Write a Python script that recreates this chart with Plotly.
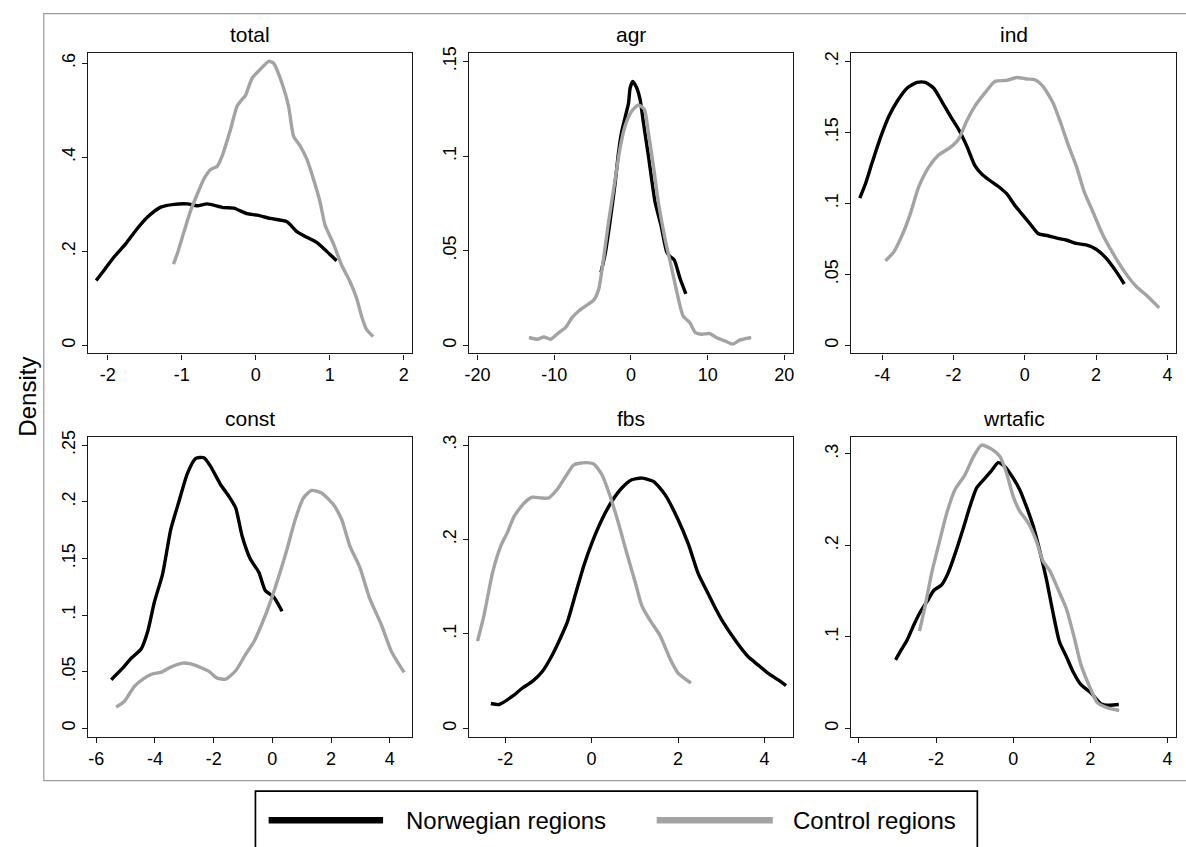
import plotly.graph_objects as go

# ---------------- data ----------------
panel_titles = ["total", "agr", "ind", "const", "fbs", "wrtafic"]
series_names = ["Norwegian regions", "Control regions"]

nor_total_x = [-2.157, -2.045, -1.91, -1.753, -1.619, -1.462, -1.283, -1.103, -0.924, -0.789, -0.655,
               -0.43, -0.296, -0.117, 0.018, 0.197, 0.422, 0.556, 0.691, 0.825, 0.96, 1.094]
nor_total_y = [0.138, 0.161, 0.189, 0.217, 0.245, 0.273, 0.294, 0.300, 0.301, 0.297, 0.301,
               0.293, 0.292, 0.280, 0.277, 0.270, 0.263, 0.242, 0.230, 0.219, 0.200, 0.180]
ctl_total_x = [-1.112, -1.058, -0.969, -0.879, -0.789, -0.70, -0.61, -0.52, -0.453, -0.341, -0.251,
               -0.184, -0.139, -0.049, 0.063, 0.175, 0.242, 0.354, 0.444, 0.511, 0.601, 0.691,
               0.78, 0.87, 0.937, 1.049, 1.161, 1.274, 1.363, 1.43, 1.498, 1.587]
ctl_total_y = [0.173, 0.196, 0.242, 0.287, 0.322, 0.354, 0.374, 0.381, 0.403, 0.459, 0.509,
               0.523, 0.531, 0.568, 0.587, 0.604, 0.600, 0.558, 0.509, 0.445, 0.424, 0.396,
               0.354, 0.305, 0.256, 0.217, 0.171, 0.136, 0.101, 0.063, 0.034, 0.019]

nor_agr_x = [-3.91, -3.35, -2.70, -2.05, -1.62, -1.19, -0.67, -0.32, -0.11, 0.24, 0.76, 1.19, 1.62,
             2.27, 3.14, 3.91, 4.65, 5.08, 5.64, 6.38, 7.16]
nor_agr_y = [0.0386, 0.0487, 0.0662, 0.0863, 0.102, 0.1133, 0.122, 0.128, 0.136, 0.1395, 0.136,
             0.130, 0.1177, 0.1002, 0.0758, 0.0636, 0.0496, 0.047, 0.0452, 0.0356, 0.0272]
ctl_agr_x = [-13.3, -12.2, -11.35, -10.49, -9.41, -8.54, -7.68, -6.81, -5.95, -4.86, -4.22, -3.57,
             -2.92, -2.05, -1.41, -0.76, 0.11, 0.97, 1.75, 2.27, 2.92, 3.57, 4.43, 5.3, 6.16, 6.81,
             7.68, 8.41, 9.19, 10.27, 11.14, 12.22, 13.3, 14.16, 15.68]
ctl_agr_y = [0.0042, 0.0033, 0.0045, 0.0033, 0.0068, 0.0094, 0.0147, 0.0182, 0.0208, 0.0239, 0.0295,
             0.0461, 0.0653, 0.088, 0.1046, 0.116, 0.1238, 0.127, 0.1247, 0.1125, 0.095, 0.0758,
             0.0566, 0.0409, 0.0251, 0.0155, 0.012, 0.0068, 0.0059, 0.0063, 0.0042, 0.0024,
             0.0007, 0.0028, 0.0042]

nor_ind_x = [-4.63, -4.47, -4.28, -4.05, -3.81, -3.58, -3.30, -3.02, -2.79, -2.56, -2.33, -2.09,
             -1.86, -1.63, -1.40, -1.21, -0.98, -0.74, -0.51, -0.28, -0.09, 0.14, 0.37, 0.65, 0.93,
             1.16, 1.44, 1.72, 2.0, 2.28, 2.56, 2.79]
nor_ind_y = [0.1038, 0.1139, 0.129, 0.1464, 0.1616, 0.172, 0.1814, 0.1853, 0.1853, 0.1814, 0.172,
             0.1616, 0.1523, 0.1406, 0.1267, 0.1208, 0.1162, 0.112, 0.1069, 0.0987, 0.0929, 0.0859,
             0.0789, 0.0773, 0.0754, 0.0743, 0.0719, 0.0708, 0.0678, 0.0615, 0.0522, 0.0433]
ctl_ind_x = [-3.91, -3.67, -3.44, -3.21, -2.98, -2.70, -2.42, -2.09, -1.86, -1.63, -1.40, -1.12,
             -0.84, -0.51, -0.23, 0.05, 0.28, 0.51, 0.79, 1.02, 1.21, 1.44, 1.67, 1.91, 2.19, 2.47,
             2.79, 3.12, 3.44, 3.77]
ctl_ind_y = [0.0596, 0.0661, 0.0778, 0.0929, 0.1115, 0.1255, 0.1341, 0.1395, 0.1453, 0.1581, 0.1686,
             0.1779, 0.186, 0.1867, 0.1888, 0.1877, 0.1872, 0.1825, 0.1709, 0.1558, 0.1418, 0.1267,
             0.108, 0.0941, 0.0778, 0.065, 0.0522, 0.0417, 0.0347, 0.0265]

nor_const_x = [-5.49, -5.10, -4.81, -4.47, -4.25, -4.02, -3.74, -3.46, -3.18, -2.89, -2.61, -2.33,
               -2.10, -1.76, -1.48, -1.25, -1.03, -0.75, -0.46, -0.24, 0.05, 0.33]
nor_const_y = [0.0429, 0.0531, 0.0618, 0.070, 0.0852, 0.1114, 0.1362, 0.1756, 0.2004, 0.2252, 0.2383,
               0.2389, 0.231, 0.215, 0.2048, 0.1946, 0.1698, 0.1494, 0.1377, 0.1216, 0.1158, 0.1033]
ctl_const_x = [-5.32, -5.04, -4.70, -4.36, -4.08, -3.80, -3.46, -3.06, -2.78, -2.44, -2.16, -1.88,
               -1.59, -1.25, -0.92, -0.63, -0.35, -0.07, 0.21, 0.50, 0.78, 1.06, 1.34, 1.68, 2.08,
               2.36, 2.64, 2.98, 3.32, 3.72, 4.06, 4.49]
ctl_const_y = [0.0187, 0.0239, 0.037, 0.0443, 0.0481, 0.0493, 0.054, 0.0575, 0.0569, 0.0537, 0.0502,
               0.0443, 0.0435, 0.0508, 0.0648, 0.0764, 0.0925, 0.1114, 0.1333, 0.1581, 0.1844,
               0.2033, 0.210, 0.2077, 0.1975, 0.1844, 0.161, 0.1421, 0.1144, 0.091, 0.0677, 0.0493]

nor_fbs_x = [-2.33, -2.14, -1.83, -1.60, -1.37, -1.14, -0.95, -0.76, -0.56, -0.37, -0.18, 0.01, 0.24,
             0.47, 0.70, 0.93, 1.16, 1.43, 1.70, 2.00, 2.24, 2.47, 2.66, 2.85, 3.04, 3.35, 3.62,
             3.85, 4.08, 4.31, 4.50]
nor_fbs_y = [0.0263, 0.0252, 0.034, 0.0427, 0.0497, 0.0602, 0.0742, 0.0917, 0.1127, 0.1425, 0.1722,
             0.1967, 0.2212, 0.2405, 0.2545, 0.2632, 0.265, 0.2615, 0.2475, 0.2212, 0.195, 0.1635,
             0.146, 0.1285, 0.1127, 0.0917, 0.076, 0.0672, 0.0585, 0.0515, 0.0452]
ctl_fbs_x = [-2.64, -2.49, -2.29, -2.10, -1.95, -1.79, -1.56, -1.37, -1.18, -0.99, -0.79, -0.60,
             -0.41, -0.14, 0.05, 0.24, 0.43, 0.62, 0.81, 1.01, 1.16, 1.35, 1.58, 1.81, 2.00, 2.30]
ctl_fbs_y = [0.0924, 0.1197, 0.1652, 0.1932, 0.2072, 0.2247, 0.2387, 0.2447, 0.244, 0.244, 0.2534,
             0.2667, 0.279, 0.2814, 0.280, 0.2685, 0.2457, 0.2177, 0.1862, 0.1547, 0.1302, 0.1145,
             0.0987, 0.0742, 0.0585, 0.048]

nor_wrt_x = [-3.05, -2.92, -2.75, -2.58, -2.41, -2.19, -2.06, -1.85, -1.68, -1.51, -1.29, -1.12,
             -0.95, -0.73, -0.56, -0.39, -0.22, 0.0, 0.17, 0.34, 0.52, 0.69, 0.86, 1.03, 1.2, 1.38,
             1.55, 1.76, 2.02, 2.28, 2.49, 2.74]
nor_wrt_y = [0.0748, 0.0846, 0.0965, 0.1128, 0.1272, 0.1417, 0.1507, 0.1572, 0.1706, 0.1905, 0.2194,
             0.2429, 0.2628, 0.2736, 0.2819, 0.2906, 0.2863, 0.2736, 0.261, 0.2429, 0.2212, 0.1941,
             0.1634, 0.1272, 0.0947, 0.0784, 0.0622, 0.0477, 0.0387, 0.0267, 0.0253, 0.026]
ctl_wrt_x = [-2.43, -2.28, -2.11, -1.94, -1.72, -1.51, -1.25, -1.03, -0.82, -0.52, -0.34, -0.17,
             0.0, 0.17, 0.39, 0.6, 0.77, 0.95, 1.16, 1.38, 1.59, 1.76, 1.98, 2.19, 2.45, 2.75]
ctl_wrt_y = [0.1063, 0.1345, 0.1706, 0.1995, 0.2357, 0.261, 0.2772, 0.2971, 0.3098, 0.3043, 0.2971,
             0.279, 0.2537, 0.2375, 0.2248, 0.2049, 0.1833, 0.1724, 0.1525, 0.1308, 0.0983, 0.0694,
             0.0459, 0.0278, 0.0224, 0.0195]

x_tickvals = [[-2, -1, 0, 1, 2], [-20, -10, 0, 10, 20], [-4, -2, 0, 2, 4],
              [-6, -4, -2, 0, 2, 4], [-2, 0, 2, 4], [-4, -2, 0, 2, 4]]
y_tickvals = [[0, 0.2, 0.4, 0.6], [0, 0.05, 0.1, 0.15], [0, 0.05, 0.1, 0.15, 0.2],
              [0, 0.05, 0.1, 0.15, 0.2, 0.25], [0, 0.1, 0.2, 0.3], [0, 0.1, 0.2, 0.3]]
y_ticktext = [["0", ".2", ".4", ".6"], ["0", ".05", ".1", ".15"], ["0", ".05", ".1", ".15", ".2"],
              ["0", ".05", ".1", ".15", ".2", ".25"], ["0", ".1", ".2", ".3"], ["0", ".1", ".2", ".3"]]
y_axis_title = "Density"

# ---------------- styling / layout ----------------
W, H = 1186, 847
FONT = "Liberation Sans, Arial, Helvetica, sans-serif"
BLACK = "#000000"
GRAY = "#a3a3a3"

x_ranges = [[-2.269, 2.112], [-21.08, 21.17], [-4.865, 4.234],
            [-6.285, 4.756], [-2.829, 4.668], [-4.196, 4.217]]
y_ranges = [[-0.0169, 0.621], [-0.0042, 0.1543], [-0.0056, 0.2058],
            [-0.0076, 0.2574], [-0.0091, 0.3088], [-0.0094, 0.3189]]

# panel boxes in pixels: (left, right, top, bottom)
boxes = [(83.3, 409.0, 46.7, 349.3), (466.7, 792.3, 46.7, 349.3), (850.7, 1176.7, 46.7, 349.3),
         (83.3, 409.0, 433.3, 736.0), (466.7, 792.3, 433.3, 736.0), (850.7, 1176.7, 433.3, 736.0)]

curves = [
    (nor_total_x, nor_total_y, ctl_total_x, ctl_total_y),
    (nor_agr_x, nor_agr_y, ctl_agr_x, ctl_agr_y),
    (nor_ind_x, nor_ind_y, ctl_ind_x, ctl_ind_y),
    (nor_const_x, nor_const_y, ctl_const_x, ctl_const_y),
    (nor_fbs_x, nor_fbs_y, ctl_fbs_x, ctl_fbs_y),
    (nor_wrt_x, nor_wrt_y, ctl_wrt_x, ctl_wrt_y),
]

fig = go.Figure()
layout = dict(
    width=W, height=H, autosize=False,
    margin=dict(l=0, r=0, t=0, b=0),
    paper_bgcolor="white", plot_bgcolor="white",
    showlegend=False,
    font=dict(family=FONT, color="black", size=18),
)

annotations = []
shapes = []
for i in range(6):
    xa = "xaxis" if i == 0 else f"xaxis{i+1}"
    ya = "yaxis" if i == 0 else f"yaxis{i+1}"
    xref = "x" if i == 0 else f"x{i+1}"
    yref = "y" if i == 0 else f"y{i+1}"
    L, R, T, B = boxes[i]
    common = dict(showline=True, mirror=True, linecolor="#1a1a1a", linewidth=1.3,
                  showgrid=False, zeroline=False, ticks="outside", ticklen=5,
                  tickcolor="#1a1a1a", tickwidth=1, tickfont=dict(size=18, family=FONT, color="black"),
                  fixedrange=True)
    layout[xa] = dict(domain=[L / W, R / W], anchor=yref, range=x_ranges[i],
                      tickmode="array", tickvals=x_tickvals[i],
                      ticktext=[str(v) for v in x_tickvals[i]], **common)
    layout[ya] = dict(domain=[1 - B / H, 1 - T / H], anchor=xref, range=y_ranges[i],
                      tickmode="array", tickvals=y_tickvals[i], ticktext=y_ticktext[i],
                      tickangle=-90, **common)
    nx, ny, cx, cy = curves[i]
    fig.add_trace(go.Scatter(x=nx, y=ny, mode="lines", name=series_names[0],
                             line=dict(color=BLACK, width=3.4, shape="spline", smoothing=0.6),
                             xaxis=xref, yaxis=yref, hoverinfo="skip"))
    fig.add_trace(go.Scatter(x=cx, y=cy, mode="lines", name=series_names[1],
                             line=dict(color=GRAY, width=3.4, shape="spline", smoothing=0.6),
                             xaxis=xref, yaxis=yref, hoverinfo="skip"))
    annotations.append(dict(text=panel_titles[i], xref="paper", yref="paper",
                            x=(L + R) / 2 / W, y=1 - (T - 5) / H, xanchor="center", yanchor="bottom",
                            showarrow=False, font=dict(size=21, family=FONT, color="black")))

# y-axis title
annotations.append(dict(text=y_axis_title, xref="paper", yref="paper", x=23 / W, y=1 - 393 / H,
                        xanchor="center", yanchor="middle", textangle=-90, showarrow=False,
                        font=dict(size=24, family=FONT, color="black")))

# outer frame of the graph region
shapes.append(dict(type="rect", xref="paper", yref="paper", x0=39 / W, x1=1195 / W,
                   y0=1 - 780 / H, y1=1 - 6.7 / H, line=dict(color="#9a9a9a", width=1.2),
                   fillcolor="rgba(0,0,0,0)", layer="below"))

# legend box (drawn manually so the sample lines match the reference length)
leg_y = 1 - 820 / H
shapes.append(dict(type="rect", xref="paper", yref="paper", x0=251.7 / W, x1=977.3 / W,
                   y0=1 - 870 / H, y1=1 - 790.7 / H, line=dict(color="black", width=1.7),
                   fillcolor="white"))
shapes.append(dict(type="line", xref="paper", yref="paper", x0=265 / W, x1=380 / W,
                   y0=leg_y, y1=leg_y, line=dict(color=BLACK, width=6.5)))
shapes.append(dict(type="line", xref="paper", yref="paper", x0=655 / W, x1=771.7 / W,
                   y0=leg_y, y1=leg_y, line=dict(color=GRAY, width=6.5)))
annotations.append(dict(text=series_names[0], xref="paper", yref="paper", x=401 / W, y=leg_y,
                        xanchor="left", yanchor="middle", showarrow=False,
                        font=dict(size=24, family=FONT, color="black")))
annotations.append(dict(text=series_names[1], xref="paper", yref="paper", x=790 / W, y=leg_y,
                        xanchor="left", yanchor="middle", showarrow=False,
                        font=dict(size=24, family=FONT, color="black")))

layout["annotations"] = annotations
layout["shapes"] = shapes
fig.update_layout(**layout)
fig.write_html("out.html", config={"displayModeBar": False})
